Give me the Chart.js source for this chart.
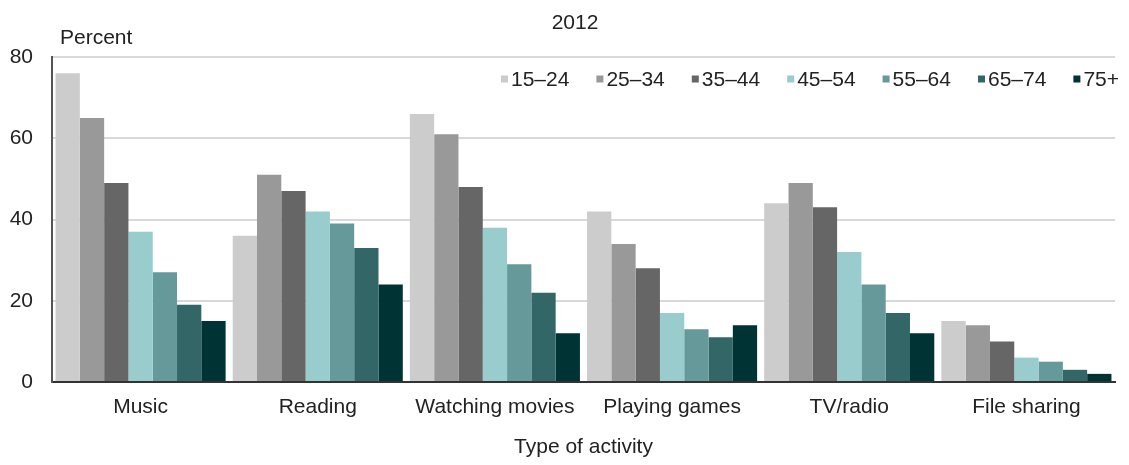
<!DOCTYPE html>
<html>
<head>
<meta charset="utf-8">
<script src="https://cdn.jsdelivr.net/npm/chart.js@4/dist/chart.umd.min.js"></script>
<style>
  html, body { margin: 0; padding: 0; background: #fff; }
  #wrap { width: 1129px; height: 465px; }
</style>
</head>
<body>
<div id="wrap"><canvas id="activityChart"></canvas></div>
<script>
// Data
const activities = ['Music', 'Reading', 'Watching movies', 'Playing games', 'TV/radio', 'File sharing'];
const ageGroups = ['15–24', '25–34', '35–44', '45–54', '55–64', '65–74', '75+'];
const age15to24 = [76, 36, 66, 42, 44, 15];
const age25to34 = [65, 51, 61, 34, 49, 14];
const age35to44 = [49, 47, 48, 28, 43, 10];
const age45to54 = [37, 42, 38, 17, 32, 6];
const age55to64 = [27, 39, 29, 13, 24, 5];
const age65to74 = [19, 33, 22, 11, 17, 3];
const age75plus = [15, 24, 12, 14, 12, 2];
const yTicks = [0, 20, 40, 60, 80];

const seriesValues = [age15to24, age25to34, age35to44, age45to54, age55to64, age65to74, age75plus];
const seriesColors = ['#cccccc', '#999999', '#666666', '#99cccc', '#669999', '#336666', '#003333'];

const FONT = '"Liberation Sans", Arial, sans-serif';
const FONT_SIZE = 21;

// Title, "Percent" label and the legend inside the plot
const extras = {
    id: 'extras',
    afterDraw(chart) {
        const ctx = chart.ctx;
        const area = chart.chartArea;
        ctx.save();
        ctx.font = FONT_SIZE + 'px ' + FONT;
        ctx.fillStyle = '#222';
        ctx.textBaseline = 'alphabetic';

        ctx.textAlign = 'center';
        ctx.fillText('2012', 575, 29);

        ctx.textAlign = 'left';
        ctx.fillText('Percent', area.left + 8, area.top - 13);

        // legend, right aligned
        const box = 7, gap = 3, spacing = 27;
        const legendRight = area.right + 4;
        const legendY = area.top + 22;
        let x = legendRight;
        const items = chart.data.datasets.map(ds => ({
            text: ds.label,
            color: ds.backgroundColor,
            w: box + gap + ctx.measureText(ds.label).width
        }));
        for (let i = items.length - 1; i >= 0; i--) {
            x -= items[i].w;
            items[i].x = x;
            x -= spacing;
        }
        ctx.textBaseline = 'middle';
        items.forEach(it => {
            ctx.fillStyle = it.color;
            ctx.fillRect(it.x, legendY - box / 2, box, box);
            ctx.fillStyle = '#222';
            ctx.fillText(it.text, it.x + box + gap, legendY + 1);
        });
        ctx.restore();
    }
};

document.addEventListener('DOMContentLoaded', function() {
    const el = document.getElementById('activityChart');
    new Chart(el, {
        type: 'bar',
        data: {
            labels: activities,
            datasets: ageGroups.map((name, i) => ({
                label: name,
                data: seriesValues[i],
                backgroundColor: seriesColors[i],
                borderWidth: 0,
                barPercentage: 1.0,
                categoryPercentage: 0.96
            }))
        },
        options: {
            responsive: true,
            maintainAspectRatio: false,
            animation: false,
            layout: { padding: { left: 0, right: 14, top: 57, bottom: 5 } },
            plugins: {
                title: { display: false },
                legend: { display: false },
                tooltip: { enabled: false }
            },
            scales: {
                x: {
                    afterFit(scale) { scale.height = 78; },
                    grid: { display: false, drawTicks: false },
                    border: { color: '#333', width: 2 },
                    ticks: {
                        padding: 13,
                        color: '#222',
                        maxRotation: 0,
                        autoSkip: false,
                        font: { family: FONT, size: FONT_SIZE }
                    },
                    title: {
                        display: true,
                        text: 'Type of activity',
                        color: '#222',
                        font: { family: FONT, size: FONT_SIZE },
                        padding: { top: 0, bottom: 0 }
                    }
                },
                y: {
                    min: 0,
                    max: 80,
                    afterFit(scale) { scale.width = 52; },
                    afterBuildTicks(scale) { scale.ticks = yTicks.map(v => ({ value: v })); },
                    grid: { color: '#d9d9d9', lineWidth: 2, drawTicks: false },
                    border: { color: '#555', width: 2 },
                    ticks: {
                        padding: 19,
                        color: '#222',
                        font: { family: FONT, size: FONT_SIZE }
                    }
                }
            }
        },
        plugins: [extras]
    });
});
</script>
</body>
</html>
